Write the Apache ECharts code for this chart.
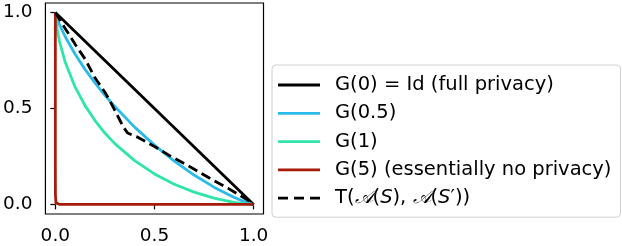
<!DOCTYPE html>
<html>
<head>
<meta charset="utf-8">
<script src="https://cdn.jsdelivr.net/npm/echarts@6/dist/echarts.min.js"></script>
<style>html,body{margin:0;padding:0;background:#fff;}#c{width:622px;height:246px;}</style>
</head>
<body>
<div id="c"></div>
<script>
const xTicks = [0, 0.5, 1];
const yTicks = [0, 0.5, 1];
const seriesNames = ['G(0) = Id (full privacy)', 'G(0.5)', 'G(1)', 'G(5) (essentially no privacy)', 'T(A(S), A(S\u2032))'];

const g0X = [0, 1];
const g0Y = [1, 0];

const g05X = [0, 0.001, 0.01, 0.02, 0.05, 0.1, 0.15, 0.2, 0.25, 0.3, 0.4, 0.5, 0.6, 0.7, 0.8, 0.9, 0.95, 0.99, 1];
const g05Y = [1, 0.995, 0.966, 0.940, 0.874, 0.783, 0.704, 0.634, 0.569, 0.510, 0.403, 0.309, 0.226, 0.153, 0.090, 0.037, 0.016, 0.002, 0];

const g1X = [0, 0.001, 0.01, 0.02, 0.05, 0.1, 0.15, 0.2, 0.25, 0.3, 0.4, 0.5, 0.6, 0.7, 0.8, 0.9, 0.95, 1];
const g1Y = [1, 0.982, 0.908, 0.854, 0.741, 0.611, 0.515, 0.437, 0.372, 0.317, 0.228, 0.159, 0.105, 0.064, 0.033, 0.011, 0.004, 0];

const g5X = [0, 0.00005, 0.0005, 0.003, 0.02, 0.1, 1];
const g5Y = [1, 0.2, 0.05, 0.008, 0.0005, 0, 0];

const tX = [0, 0.045, 0.1, 0.15, 0.2, 0.25, 0.275, 0.3, 0.325, 0.345, 0.365, 0.42, 0.5, 0.57, 0.69, 0.79, 0.87, 0.93, 0.97, 1];
const tY = [1, 0.925, 0.835, 0.758, 0.66, 0.585, 0.54, 0.49, 0.44, 0.40, 0.372, 0.348, 0.302, 0.258, 0.19, 0.13, 0.085, 0.048, 0.022, 0];

const colors = ['#000000', '#2bbbea', '#2fe6a6', '#a81b0b', '#000000'];

function zip(xs, ys) { return xs.map((x, i) => [x, ys[i]]); }

const FONT = 'DejaVu Sans';
const chart = echarts.init(document.getElementById('c'), null, {renderer: 'canvas'});

const lineW = 2.8;
const solidIcon = 'path://M0,0L42,0L42,2.8L0,2.8Z';
const dashIcon = 'path://M0,0h10v2.8h-10z M16,0h10v2.8h-10z M32,0h10v2.8h-10z';

function mk(i, xs, ys, dashed) {
  return {
    name: seriesNames[i], type: 'line', data: zip(xs, ys),
    symbol: 'none', smooth: false, animation: false,
    lineStyle: {color: colors[i], width: lineW, type: dashed ? [10, 5] : 'solid', cap: 'butt', join: 'round'},
    itemStyle: {color: colors[i]},
    emphasis: {disabled: true}
  };
}

const axisCommon = {
  type: 'value', min: -0.05, max: 1.05,
  splitLine: {show: false},
  axisLine: {show: false},
  axisTick: {show: true, inside: false, length: 5, lineStyle: {color: '#000', width: 1.2}},
  axisLabel: {color: '#000', fontFamily: FONT, fontSize: 18.5, margin: 13, formatter: v => v.toFixed(1)}
};

chart.setOption({
  animation: false,
  backgroundColor: '#fff',
  grid: {left: 43.5, right: 358.5, top: 3, bottom: 32, show: true, borderColor: '#000', borderWidth: 1.2, backgroundColor: 'transparent', containLabel: false},
  xAxis: Object.assign({}, axisCommon, {
    axisTick: Object.assign({}, axisCommon.axisTick, {customValues: xTicks}),
    axisLabel: Object.assign({}, axisCommon.axisLabel, {customValues: xTicks})
  }),
  yAxis: Object.assign({}, axisCommon, {
    axisTick: Object.assign({}, axisCommon.axisTick, {customValues: yTicks}),
    axisLabel: Object.assign({}, axisCommon.axisLabel, {customValues: yTicks})
  }),
  legend: {
    show: true, orient: 'vertical', left: 272, top: 65,
    padding: [10, 9, 9, 6],
    itemWidth: 42, itemHeight: 14, itemGap: 8.3,
    symbolKeepAspect: true,
    backgroundColor: '#fff', borderColor: '#d0d0d0', borderWidth: 1, borderRadius: 4,
    textStyle: {color: '#000', fontFamily: FONT, fontSize: 19.5, width: 281, padding: [0, 0, 0, 10],
      rich: {
        n: {fontFamily: FONT, fontSize: 19.5, color: '#000'},
        c: {fontFamily: 'DejaVu Serif', fontStyle: 'italic', fontSize: 19.5, color: '#000'},
        i: {fontFamily: FONT, fontStyle: 'italic', fontSize: 19.5, color: '#000'}
      }
    },
    formatter: function (name) {
      if (name === seriesNames[4]) {
        return '{n|T(}{c|\u{1D49C}}{n|(}{i|S}{n|), }{c|\u{1D49C}}{n|(}{i|S}{n|\u2032))}';
      }
      return name;
    },
    selectedMode: false,
    data: seriesNames.map((n, i) => ({name: n, icon: i === 4 ? dashIcon : solidIcon, itemStyle: {color: colors[i]}}))
  },
  series: [
    mk(0, g0X, g0Y, false),
    mk(1, g05X, g05Y, false),
    mk(2, g1X, g1Y, false),
    mk(3, g5X, g5Y, false),
    mk(4, tX, tY, true)
  ]
});
</script>
</body>
</html>
